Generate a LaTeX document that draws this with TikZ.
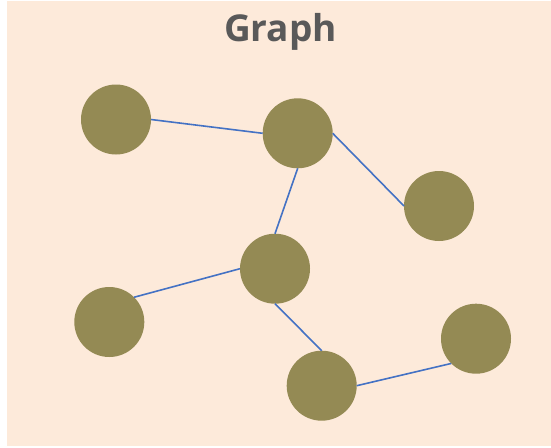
\documentclass[tikz,border=0pt]{standalone}
\usepackage{fontspec}
\setmainfont{Open Sans}
\definecolor{bgpeach}{HTML}{FDEADA}
\definecolor{olive}{HTML}{948A54}
\definecolor{linkblue}{HTML}{4472C4}
\definecolor{titlegray}{HTML}{595959}
\begin{document}
\begin{tikzpicture}[x=1pt,y=-1pt,
  vertex/.style={circle,fill=olive,draw=none,minimum size=70pt,inner sep=0pt,outer sep=0pt},
  link/.style={draw=linkblue,line width=1.6pt},
  titletext/.style={font=\fontsize{37}{40}\selectfont\bfseries,text=titlegray,anchor=base}]
\useasboundingbox (0,0) rectangle (551,447);
\fill[bgpeach] (7,1) rectangle (551,446);
\node[titletext] (title) at (280.5,41.7) {Graph};
\node[vertex] (a) at (116,119.5) {};
\node[vertex] (b) at (297.7,133.3) {};
\node[vertex] (c) at (439,206) {};
\node[vertex] (d) at (275,268.7) {};
\node[vertex] (e) at (109.3,322) {};
\node[vertex] (f) at (321.7,385.7) {};
\node[vertex] (g) at (476,338.7) {};
\draw[link] (a.east) -- (b.west);
\draw[link] (b.east) -- (c.west);
\draw[link] (b.south) -- (d.north);
\draw[link] (e.north east) -- (d.west);
\draw[link] (d.south) -- (f.north);
\draw[link] (f.east) -- (g.south west);
\end{tikzpicture}
\end{document}
